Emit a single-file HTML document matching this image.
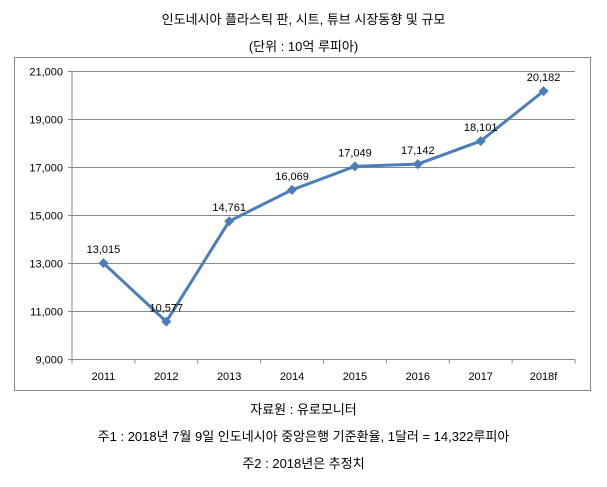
<!DOCTYPE html>
<html><head><meta charset="utf-8"><style>
body{margin:0;width:607px;height:487px;background:#fff;font-family:"Liberation Sans","Noto Sans CJK KR",sans-serif;overflow:hidden}
.t{position:absolute;left:0;width:607px;text-align:center;font-size:13px;color:#000}
</style></head><body>
<div class="t" style="top:9px">인도네시아 플라스틱 판, 시트, 튜브 시장동향 및 규모</div>
<div class="t" style="top:36px">(단위 : 10억 루피아)</div>
<svg id="c" width="607" height="487" style="position:absolute;left:0;top:0"></svg>
<div class="t" style="top:399px">자료원 : 유로모니터</div>
<div class="t" style="top:426px">주1 : 2018년 7월 9일 인도네시아 중앙은행 기준환율, 1달러 = 14,322루피아</div>
<div class="t" style="top:453px">주2 : 2018년은 추정치</div>
<script>
const categories=["2011","2012","2013","2014","2015","2016","2017","2018f"];
const values=[13015,10577,14761,16069,17049,17142,18101,20182];
const yTicks=[9000,11000,13000,15000,17000,19000,21000];
const svg=document.getElementById('c');const NS="http://www.w3.org/2000/svg";
const X0=72,X1=575,Y0=359.5,Y1=71.5,ymin=9000,ymax=21000;
const step=(X1-X0)/categories.length;
const xs=i=>X0+step*(i+0.5);
const ys=v=>Y0-(v-ymin)/(ymax-ymin)*(Y0-Y1);
function mk(t,a,p){const e=document.createElementNS(NS,t);for(const k in a)e.setAttribute(k,a[k]);(p||svg).appendChild(e);return e;}
const box=mk('rect',{x:14.5,y:57.5,width:576,height:333,fill:'none',stroke:'#888'});


yTicks.forEach(v=>{
 const l=mk('line',{x1:X0-4,x2:X1,y1:ys(v),y2:ys(v),stroke:'#888'});
 
 
 const t=mk('text',{x:X0-9,y:ys(v)+4,'text-anchor':'end','font-size':'11',fill:'#000'});
 t.textContent=v.toLocaleString('en-US');
 
 
});
const ax=mk('line',{x1:X0,x2:X0,y1:Y1,y2:Y0,stroke:'#888'});


for(let i=0;i<=categories.length;i++){
 const tk=mk('line',{x1:X0+step*i,x2:X0+step*i,y1:Y0,y2:Y0+4,stroke:'#888'});
 
 
}
categories.forEach((c,i)=>{
 const t=mk('text',{x:xs(i),y:380,'text-anchor':'middle','font-size':'11',fill:'#000'});
 t.textContent=c;
 
 
});
const line=mk('polyline',{points:values.map((v,i)=>xs(i)+','+ys(v)).join(' '),fill:'none',stroke:'#4a7ebb','stroke-width':3});


values.forEach((v,i)=>{
 const x=xs(i),y=ys(v);
 const m=mk('polygon',{points:`${x},${y-5} ${x+5},${y} ${x},${y+5} ${x-5},${y}`,fill:'#4a7ebb'});
 
 
 const t=mk('text',{x:x,y:y-10,'text-anchor':'middle','font-size':'11',fill:'#000'});
 t.textContent=v.toLocaleString('en-US');
 
 
});
</script>
</body></html>
